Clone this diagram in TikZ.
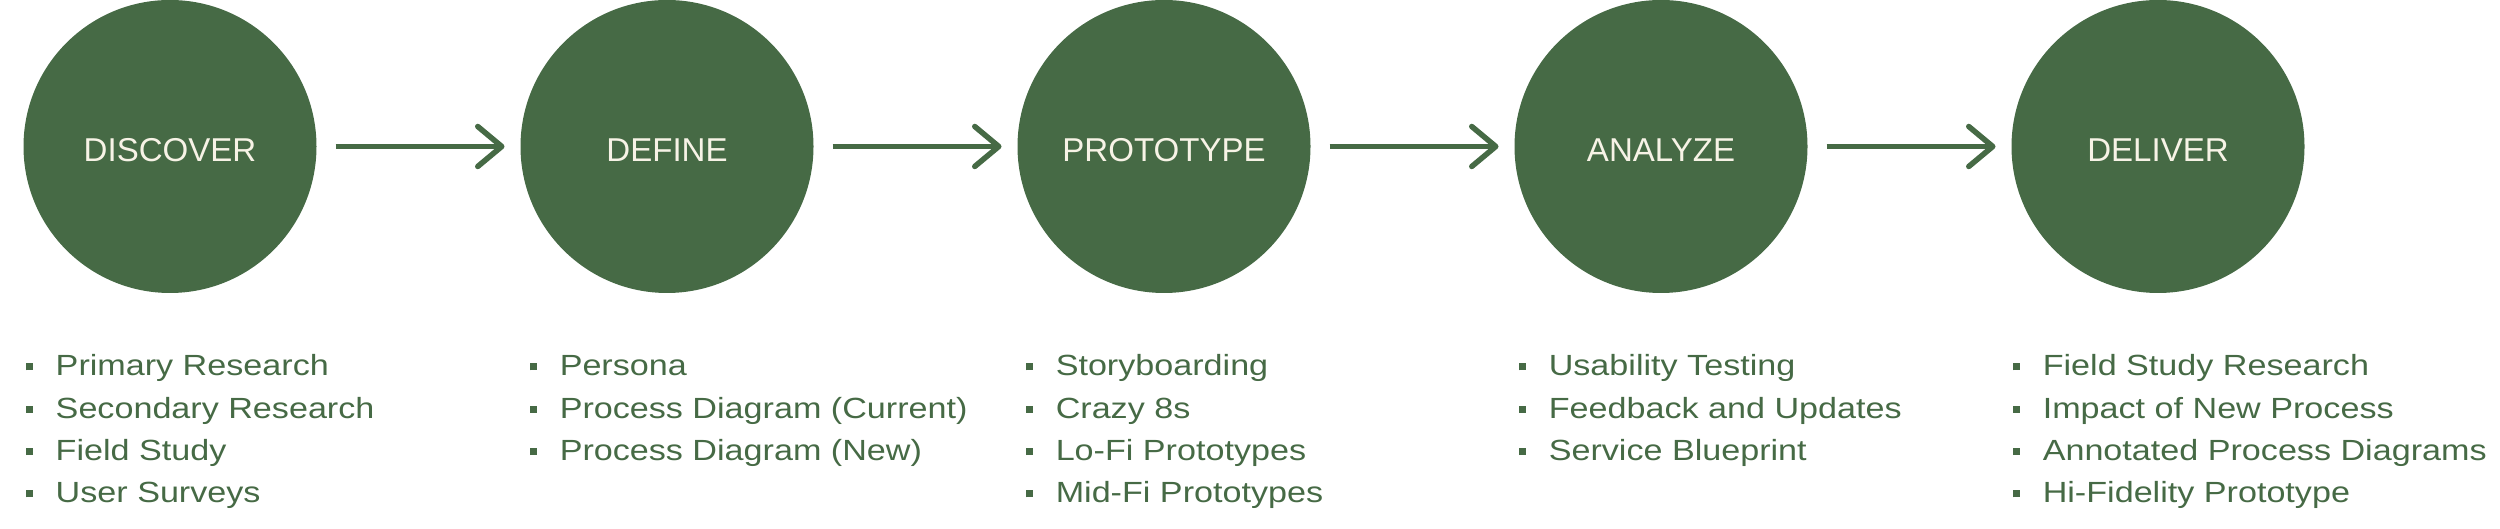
\documentclass[tikz,border=0pt]{standalone}
\usepackage{fontspec}
\setmainfont{Liberation Sans}
\newfontfamily\listfont{Liberation Sans}[FakeStretch=1.17]
\usetikzlibrary{positioning,arrows.meta}
\definecolor{pgreen}{HTML}{466A45}
\definecolor{pcream}{HTML}{F7F3E6}
\newcommand{\sqbul}{\makebox[0.30cm][l]{\rule[0.055cm]{0.07cm}{0.07cm}}}

\begin{document}
\begin{tikzpicture}[>={Straight Barb[length=0.24cm,width=0.40cm,round]},
  line width=0.055cm, node distance=2.04cm,
  phase/.style={circle, fill=pgreen, text=pcream, minimum size=2.93cm,
    inner sep=0pt, outer sep=0pt, text height=0.31cm, text depth=0pt,
    font=\fontsize{9.4}{11}\selectfont},
  item/.style={anchor=base west, inner sep=0pt, text=pgreen,
    font=\listfont\fontsize{8.3}{10}\selectfont},
  flow/.style={pgreen, ->, shorten <=0.19cm, shorten >=0.16cm}]
  \useasboundingbox (0,0) rectangle (25,5.29);

  % the five phases, left to right
  \node[phase] (disc) at (1.70,3.825) {DISCOVER};
  \node[phase, right=of disc] (def) {DEFINE};
  \node[phase, right=of def] (proto) {PROTOTYPE};
  \node[phase, right=of proto] (ana) {ANALYZE};
  \node[phase, right=of ana] (deliv) {DELIVER};

  % arrows between phases
  \draw[flow] (disc) -- (def);
  \draw[flow] (def) -- (proto);
  \draw[flow] (proto) -- (ana);
  \draw[flow] (ana) -- (deliv);

  % where each activity list starts (first baseline)
  \coordinate (disc-list) at (0.23,1.53);
  \coordinate (def-list) at (5.27,1.53);
  \coordinate (proto-list) at (10.23,1.53);
  \coordinate (ana-list) at (15.16,1.53);
  \coordinate (deliv-list) at (20.10,1.53);

  % activity lists
  \foreach \txt [count=\i] in {Primary Research, Secondary Research, Field Study, User Surveys}
    \node[item] (disc-\i) at ([yshift={(1-\i)*0.423cm}]disc-list) {\sqbul\txt};
  \foreach \txt [count=\i] in {Persona, Process Diagram (Current), Process Diagram (New)}
    \node[item] (def-\i) at ([yshift={(1-\i)*0.423cm}]def-list) {\sqbul\txt};
  \foreach \txt [count=\i] in {Storyboarding, Crazy 8s, Lo-Fi Prototypes, Mid-Fi Prototypes}
    \node[item] (proto-\i) at ([yshift={(1-\i)*0.423cm}]proto-list) {\sqbul\txt};
  \foreach \txt [count=\i] in {Usability Testing, Feedback and Updates, Service Blueprint}
    \node[item] (ana-\i) at ([yshift={(1-\i)*0.423cm}]ana-list) {\sqbul\txt};
  \foreach \txt [count=\i] in {Field Study Research, Impact of New Process, Annotated Process Diagrams, Hi-Fidelity Prototype}
    \node[item] (deliv-\i) at ([yshift={(1-\i)*0.423cm}]deliv-list) {\sqbul\txt};
\end{tikzpicture}
\end{document}
